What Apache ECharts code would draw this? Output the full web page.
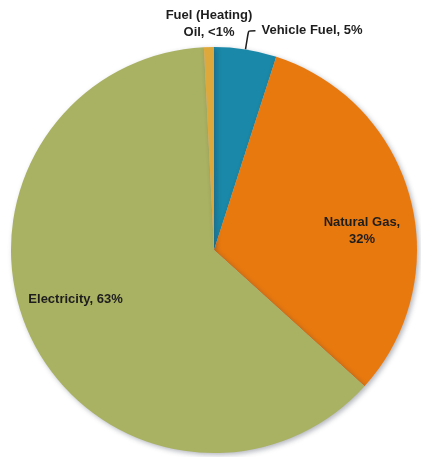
<!DOCTYPE html>
<html>
<head>
<meta charset="utf-8">
<style>
  html, body { margin: 0; padding: 0; background: #ffffff; }
  #chart { width: 421px; height: 457px; }
</style>
<script src="https://cdn.jsdelivr.net/npm/echarts@6/dist/echarts.min.js"></script>
</head>
<body>
<div id="chart"></div>
<script>
// Energy use by source, in percent, clockwise from twelve o'clock
const categories = ['Vehicle Fuel', 'Natural Gas', 'Electricity', 'Fuel (Heating)\nOil'];
const shares = [5, 32, 63, 0.8];
const shareLabels = ['5%', '32%', '63%', '<1%'];
const colors = ['#1a88a8', '#e8790f', '#a9b162', '#dfa83a'];

const chart = echarts.init(document.getElementById('chart'), null, { renderer: 'canvas' });

const labelFont = {
  fontFamily: 'Liberation Sans, Arial, sans-serif',
  fontWeight: 'bold',
  fontSize: 13,
  lineHeight: 17,
  color: '#1e1e1e'
};

const data = categories.map((name, i) => {
  const item = {
    name: name,
    value: shares[i],
    itemStyle: { color: colors[i] }
  };
  if (name === 'Natural Gas') {
    item.label = Object.assign({ position: 'inside', formatter: 'Natural Gas,\n' + shareLabels[i] }, labelFont);
    item.labelLine = { show: false };
  } else if (name === 'Electricity') {
    item.label = Object.assign({ position: 'inside', formatter: 'Electricity, ' + shareLabels[i] }, labelFont);
    item.labelLine = { show: false };
  } else if (name === 'Vehicle Fuel') {
    item.label = Object.assign({ position: 'outside', formatter: 'Vehicle Fuel, ' + shareLabels[i], distanceToLabelLine: 6 }, labelFont);
    item.labelLine = { show: true, length: 19, length2: 7, smooth: 0.15, lineStyle: { color: '#1e1e1e', width: 1.5 } };
  } else {
    item.label = Object.assign({ position: 'outside', formatter: 'Fuel (Heating)\nOil, ' + shareLabels[i], align: 'center' }, labelFont);
    item.labelLine = { show: false };
  }
  return item;
});

chart.setOption({
  animation: false,
  backgroundColor: '#ffffff',
  series: [{
    type: 'pie',
    center: [214, 250],
    radius: 203,
    startAngle: 90,
    clockwise: true,
    avoidLabelOverlap: false,
    itemStyle: {
      borderWidth: 0,
      shadowBlur: 5,
      shadowOffsetX: 2,
      shadowOffsetY: 2,
      shadowColor: 'rgba(40, 50, 70, 0.35)'
    },
    emphasis: { disabled: true },
    labelLayout: function (params) {
      const name = categories[params.dataIndex];
      if (name === 'Natural Gas') return { dx: 47, dy: 8 };
      if (name === 'Electricity') return { dx: -44, dy: 5 };
      if (name === 'Fuel (Heating)\nOil') return { x: 209, y: 24, align: 'center', verticalAlign: 'middle' };
      return {};
    },
    data: data
  }]
});
</script>
</body>
</html>
